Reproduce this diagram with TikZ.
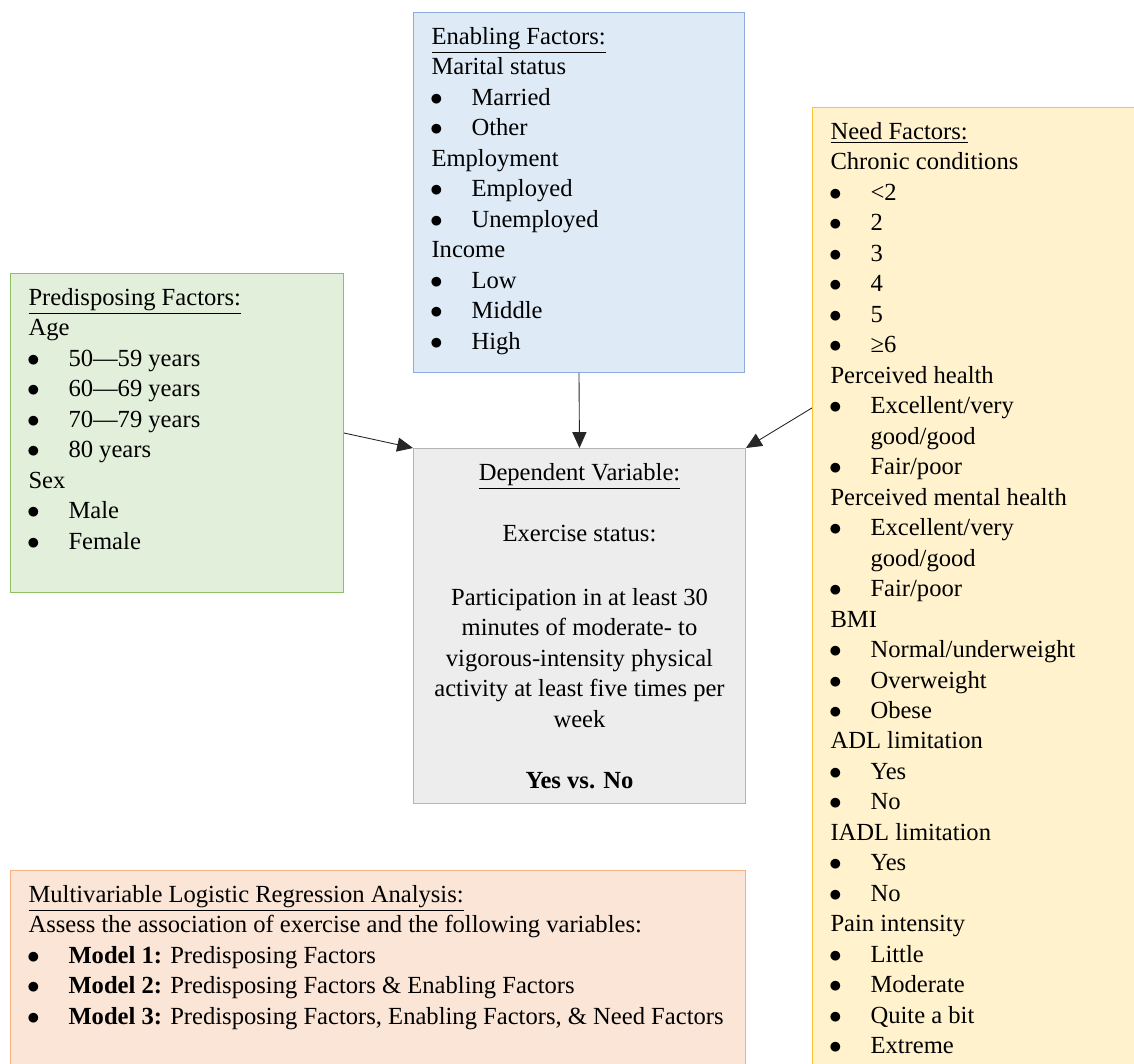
\documentclass[tikz,border=0pt]{standalone}
\usepackage{fontspec}
\setmainfont{Liberation Serif}
\usetikzlibrary{arrows.meta}

\definecolor{enafill}{HTML}{DEEAF6}
\definecolor{enaline}{HTML}{8FAADC}
\definecolor{prefill}{HTML}{E2EFDA}
\definecolor{preline}{HTML}{8CC063}
\definecolor{needfill}{HTML}{FFF2CC}
\definecolor{needline}{HTML}{FFC433}
\definecolor{depfill}{HTML}{EDEDED}
\definecolor{depline}{HTML}{B4B4B4}
\definecolor{mlrfill}{HTML}{FBE5D6}
\definecolor{mlrline}{HTML}{F4B183}

% one line of a bullet list
\newcommand{\itm}[1]{\makebox[0.8cm][l]{\hspace{-0.03cm}$\bullet$}#1}
% the text block of a panel: width, height, lines
\newcommand{\panelbody}[3]{%
  \parbox[c][#2][t]{#1}{\fontsize{14}{17.35}\selectfont
    \raggedright\leftskip=0.36cm\rule{0pt}{18.1pt}#3}}
\newcommand{\depbody}[3]{%
  \parbox[c][#2][t]{#1}{\fontsize{14}{17.35}\selectfont
    \centering\rule{0pt}{18.1pt}#3}}

\begin{document}
\begin{tikzpicture}[
  x=0.02cm, y=-0.02cm,
  >={Triangle[length=9pt,width=8pt]},
  panel/.style={draw, line width=0.6pt, inner sep=0pt, anchor=north west},
  link/.style={->, line width=0.5pt, black!85}
]
  \useasboundingbox (0,0) rectangle (1134,1064);
  \clip (0,0) rectangle (1134,1064);

  % the five panels
  \node[panel, fill=enafill, draw=enaline] (ena) at (413,12)
    {\panelbody{6.62cm}{7.2cm}{\underline{Enabling Factors:}\\
      Marital status\\ \itm{Married}\\ \itm{Other}\\
      Employment\\ \itm{Employed}\\ \itm{Unemployed}\\
      Income\\ \itm{Low}\\ \itm{Middle}\\ \itm{High}}};

  \node[panel, fill=prefill, draw=preline] (pre) at (10,273)
    {\panelbody{6.66cm}{6.38cm}{\underline{Predisposing Factors:}\\
      Age\\ \itm{50—59 years}\\ \itm{60—69 years}\\
      \itm{70—79 years}\\ \itm{80 years}\\
      Sex\\ \itm{Male}\\ \itm{Female}}};

  \node[panel, fill=needfill, draw=needline] (need) at (812,107)
    {\panelbody{6.8cm}{19.6cm}{\underline{Need Factors:}\\
      Chronic conditions\\ \itm{<2}\\ \itm{2}\\ \itm{3}\\ \itm{4}\\
      \itm{5}\\ \itm{≥6}\\
      Perceived health\\ \itm{Excellent/very}\\ \hspace*{0.8cm}good/good\\
      \itm{Fair/poor}\\
      Perceived mental health\\ \itm{Excellent/very}\\ \hspace*{0.8cm}good/good\\
      \itm{Fair/poor}\\
      BMI\\ \itm{Normal/underweight}\\ \itm{Overweight}\\ \itm{Obese}\\
      ADL limitation\\ \itm{Yes}\\ \itm{No}\\
      IADL limitation\\ \itm{Yes}\\ \itm{No}\\
      Pain intensity\\ \itm{Little}\\ \itm{Moderate}\\
      \itm{Quite a bit}\\ \itm{Extreme}}};

  \node[panel, fill=depfill, draw=depline] (dep) at (413,448)
    {\depbody{6.64cm}{7.1cm}{\underline{Dependent Variable:}\\[17.35pt]
      Exercise status:\\[19pt]
      Participation in at least 30\\ minutes of moderate- to\\
      vigorous-intensity physical\\ activity at least five times per\\
      week\\[17.35pt]
      \textbf{Yes vs. No}}};

  \node[panel, fill=mlrfill, draw=mlrline] (mlr) at (10,870)
    {\panelbody{14.7cm}{4.4cm}{\underline{Multivariable Logistic Regression Analysis:}\\
      Assess the association of exercise and the following variables:\\
      \itm{\textbf{Model 1:} Predisposing Factors}\\
      \itm{\textbf{Model 2:} Predisposing Factors \& Enabling Factors}\\
      \itm{\textbf{Model 3:} Predisposing Factors, Enabling Factors, \& Need Factors}}};

  % arrows into the dependent variable
  \coordinate (needin) at ([yshift=-6.02cm]need.north west);
  \draw[link] (pre.east) -- (dep.north west);
  \draw[link] (ena.south) -- (dep.north);
  \draw[link] (needin) -- (dep.north east);
\end{tikzpicture}
\end{document}
